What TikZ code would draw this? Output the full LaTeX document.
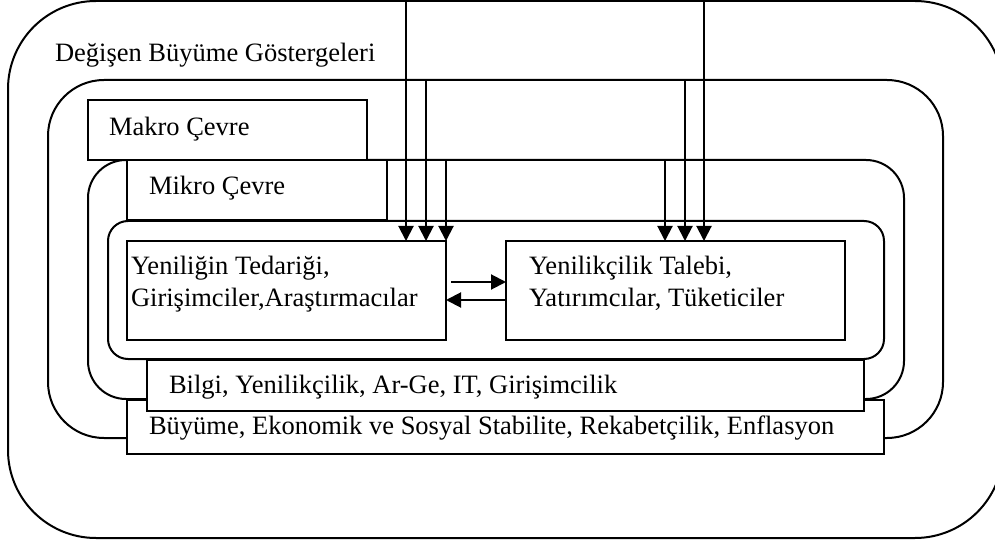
\documentclass[tikz,border=0pt]{standalone}
\usepackage{fontspec}
\setmainfont{Liberation Serif}
\usetikzlibrary{arrows.meta}
\begin{document}
\begin{tikzpicture}[x=1pt,y=-1pt,
  line width=2pt,
  zone/.style={draw, rectangle, rounded corners=#1, anchor=north west, inner sep=0pt, outer sep=0pt},
  panel/.style={draw, fill=white, rectangle, anchor=north west, inner sep=0pt, outer sep=0pt},
  lbl/.style={anchor=base west, inner sep=0pt, font=\fontsize{26.5}{32}\selectfont},
  flow/.style={-{Triangle[length=15pt,width=15pt]}},
]
\useasboundingbox (0,0) rectangle (995,545);
\begin{scope}
\clip (0,0) rectangle (995,545);

% nested environments
\node[zone=88pt, minimum width=995pt, minimum height=537pt] (env) at (8,1) {};
\node[zone=56pt, minimum width=895pt, minimum height=358pt] (macrozone) at (48,80) {};
\node[zone=38pt, minimum width=816pt, minimum height=239pt] (microzone) at (88,160) {};
\node[zone=20pt, minimum width=776pt, minimum height=138pt] (corezone) at (108,221) {};

% title boxes
\node[panel, minimum width=279pt, minimum height=60pt] (macrobox) at (88,100) {};
\node[panel, minimum width=260pt, minimum height=60pt] (microbox) at (127,160) {};
\node[panel, minimum width=757pt, minimum height=54pt] (growthbox) at (127,400) {};
\node[panel, minimum width=717pt, minimum height=51pt] (knowbox) at (147,360) {};

% supply and demand
\node[panel, minimum width=319pt, minimum height=99pt] (sup) at (127,241) {};
\node[panel, minimum width=339pt, minimum height=99pt] (dem) at (506,241) {};

% labels
\node[lbl] (envlbl) at (54,62) {Değişen Büyüme Göstergeleri};
\node[lbl] (macrolbl) at (108,136) {Makro Çevre};
\node[lbl] (microlbl) at (148,195) {Mikro Çevre};
\node[lbl] (supA) at (130,274) {Yeniliğin Tedariği,};
\node[lbl] (supB) at (130,306) {Girişimciler,Araştırmacılar};
\node[lbl] (demA) at (528,274) {Yenilikçilik Talebi,};
\node[lbl] (demB) at (528,306) {Yatırımcılar, Tüketiciler};
\node[lbl] (knowlbl) at (168,393) {Bilgi, Yenilikçilik, Ar-Ge, IT, Girişimcilik};
\node[lbl] (growthlbl) at (148,434) {Büyüme, Ekonomik ve Sosyal Stabilite, Rekabetçilik, Enflasyon};

% influences coming down from the outer levels
\coordinate (sa) at (406,0);
\coordinate (sb) at (426,80);
\coordinate (sc) at (446,160);
\coordinate (da) at (665,160);
\coordinate (db) at (685,80);
\coordinate (dc) at (704,0);
\draw[flow] (sa) -- (sa |- sup.north);
\draw[flow] (sb) -- (sb |- sup.north);
\draw[flow] (sc) -- (sc |- sup.north);
\draw[flow] (da) -- (da |- dem.north);
\draw[flow] (db) -- (db |- dem.north);
\draw[flow] (dc) -- (dc |- dem.north);

% exchange between supply and demand
\coordinate (ex) at (451,282);
\draw[flow] (ex) -- (ex -| dem.west);
\draw[flow] (dem.west |- 0,300) -- (sup.east |- 0,300);
\end{scope}
\end{tikzpicture}
\end{document}
